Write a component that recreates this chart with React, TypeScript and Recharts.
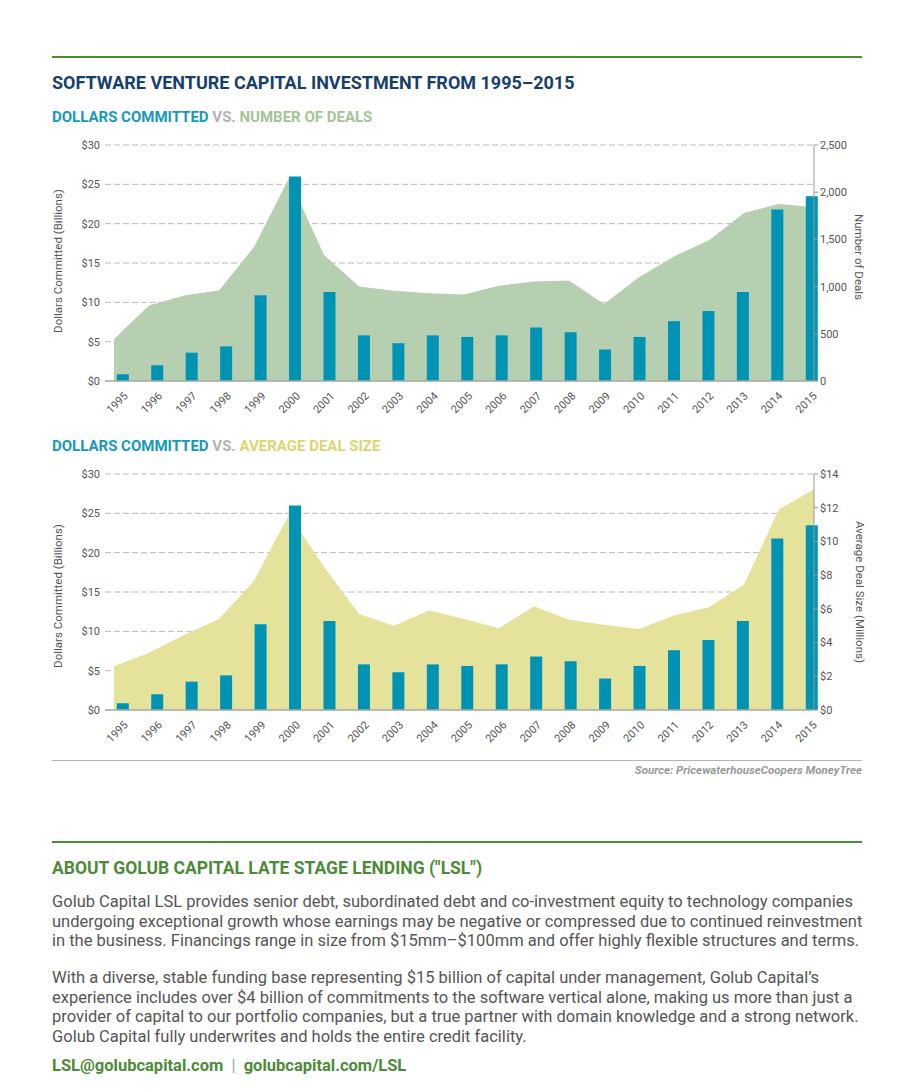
import React from "react";
import {
  ComposedChart,
  Bar,
  Area,
  XAxis,
  YAxis,
  CartesianGrid,
} from "recharts";

// values
const years = [
  "1995", "1996", "1997", "1998", "1999", "2000", "2001", "2002", "2003", "2004",
  "2005", "2006", "2007", "2008", "2009", "2010", "2011", "2012", "2013", "2014", "2015",
];
const dollarsCommitted = [
  0.85, 2.0, 3.6, 4.4, 10.9, 26.0, 11.3, 5.8, 4.8, 5.8,
  5.6, 5.8, 6.8, 6.2, 4.0, 5.6, 7.6, 8.9, 11.3, 21.8, 23.5,
];
const numberOfDeals = [
  445, 800, 905, 960, 1420, 2150, 1335, 1000, 955, 930,
  915, 1010, 1055, 1065, 815, 1100, 1320, 1490, 1780, 1875, 1840,
];
const avgDealSize = [
  2.6, 3.4, 4.45, 5.4, 7.65, 11.6, 8.5, 5.7, 5.0, 5.9,
  5.4, 4.85, 6.15, 5.35, 5.05, 4.8, 5.6, 6.1, 7.45, 11.9, 13.1,
];
const dollarTicks = [0, 5, 10, 15, 20, 25, 30];
const dealTicks = [0, 500, 1000, 1500, 2000, 2500];
const sizeTicks = [0, 2, 4, 6, 8, 10, 12, 14];

const rows = years.map((y, i) => ({
  idx: i,
  year: y,
  dollars: dollarsCommitted[i],
  deals: numberOfDeals[i],
  size: avgDealSize[i],
}));
const idxTicks = years.map((_, i) => i);

const FONT = "Roboto, 'Noto Sans', sans-serif";
const TEAL = "#0093b3";
const GREEN = "#4c8b38";
const TXT = "#555";

type ChartProps = {
  top: number;
  areaKey: string;
  areaColor: string;
  rightDomain: number[];
  rightTicks: number[];
  rightFmt: (v: number) => string;
};

function DualChart({ top, areaKey, areaColor, rightDomain, rightTicks, rightFmt }: ChartProps) {
  return (
    <div style={{ position: "absolute", left: 0, top }}>
      <ComposedChart
        width={914}
        height={291}
        data={rows}
        margin={{ top: 15, right: 0, bottom: 0, left: 0 }}
      >
        <XAxis
          xAxisId="bar"
          type="number"
          dataKey="idx"
          domain={[0, 20]}
          ticks={idxTicks}
          tickFormatter={(v) => years[v]}
          padding={{ left: 18, right: 2 }}
          axisLine={{ stroke: "#aaa", strokeWidth: 1.5 }}
          tickLine={false}
          interval={0}
          angle={-45}
          textAnchor="end"
          tickSize={4}
          tickMargin={6}
          height={40}
          tick={{ fontSize: 11, fill: TXT, fontFamily: FONT }}
        />
        <XAxis
          xAxisId="area"
          type="number"
          dataKey="idx"
          domain={[0, 20]}
          padding={{ left: 9, right: 0 }}
          orientation="top"
          height={0}
          hide
        />
        <YAxis
          yAxisId="left"
          domain={[0, 30]}
          ticks={dollarTicks}
          tickFormatter={(v) => `$${v}`}
          width={105}
          axisLine={false}
          tickLine={false}
          tickSize={3}
          tickMargin={2}
          tick={{ fontSize: 11, fill: TXT, fontFamily: FONT }}
        />
        <YAxis
          yAxisId="right"
          orientation="right"
          domain={rightDomain}
          ticks={rightTicks}
          tickFormatter={rightFmt}
          width={100}
          axisLine={{ stroke: "#999" }}
          tickLine={{ stroke: "#999" }}
          tickSize={4}
          tickMargin={2}
          tick={{ fontSize: 11, fill: TXT, fontFamily: FONT, textAnchor: "start" }}
        />
        <Area
          xAxisId="area"
          yAxisId="right"
          type="linear"
          dataKey={areaKey}
          stroke="none"
          fill={areaColor}
          fillOpacity={1}
          isAnimationActive={false}
        />
        <CartesianGrid
          xAxisId="bar"
          yAxisId="left"
          vertical={false}
          stroke="#777"
          strokeOpacity={0.5}
          strokeDasharray="6 3"
        />
        <Bar
          xAxisId="bar"
          yAxisId="left"
          dataKey="dollars"
          fill={TEAL}
          barSize={12}
          isAnimationActive={false}
        />
      </ComposedChart>
    </div>
  );
}

function AxisTitle({ text, x, y, angle }: { text: string; x: number; y: number; angle: number }) {
  return (
    <div
      style={{
        position: "absolute",
        left: x - 150,
        top: y - 8,
        width: 300,
        height: 16,
        lineHeight: "16px",
        textAlign: "center",
        fontSize: 11.5,
        color: TXT,
        fontFamily: FONT,
        transform: `rotate(${angle}deg)`,
        whiteSpace: "nowrap",
      }}
    >
      {text}
    </div>
  );
}

const para1 = [
  "Golub Capital LSL provides senior debt, subordinated debt and co-investment equity to technology companies",
  "undergoing exceptional growth whose earnings may be negative or compressed due to continued reinvestment",
  "in the business. Financings range in size from $15mm\u2013$100mm and offer highly flexible structures and terms.",
];
const para2 = [
  "With a diverse, stable funding base representing $15 billion of capital under management, Golub Capital\u2019s",
  "experience includes over $4 billion of commitments to the software vertical alone, making us more than just a",
  "provider of capital to our portfolio companies, but a true partner with domain knowledge and a strong network.",
  "Golub Capital fully underwrites and holds the entire credit facility.",
];

function Para({ lines, top }: { lines: string[]; top: number }) {
  return (
    <div
      style={{
        position: "absolute",
        left: 52,
        top,
        fontSize: 16.5,
        lineHeight: "19.7px",
        color: TXT,
        fontFamily: FONT,
        whiteSpace: "nowrap",
      }}
    >
      {lines.map((l) => (
        <div key={l}>{l}</div>
      ))}
    </div>
  );
}

export default function App() {
  const line = (top: number, color: string, h: number) => (
    <div style={{ position: "absolute", left: 52, top, width: 810, height: h, background: color }} />
  );
  const text = (top: number, size: number, children: React.ReactNode, extra = {}) => (
    <div
      style={{
        position: "absolute",
        left: 52,
        top,
        fontSize: size,
        lineHeight: 1,
        fontFamily: FONT,
        fontWeight: 700,
        whiteSpace: "nowrap",
        ...extra,
      }}
    >
      {children}
    </div>
  );
  return (
    <div
      style={{
        position: "absolute",
        left: 0,
        top: 0,
        width: 914,
        height: 1092,
        background: "#fff",
        fontFamily: FONT,
      }}
    >
      {line(56, GREEN, 2)}
      {text(74, 18, "SOFTWARE VENTURE CAPITAL INVESTMENT FROM 1995\u20132015", { color: "#173f6c" })}
      {text(110, 15, (
        <>
          <span style={{ color: "#1799b8" }}>DOLLARS COMMITTED</span>
          <span style={{ color: "#b3b3b3" }}> VS. </span>
          <span style={{ color: "#a3c496" }}>NUMBER OF DEALS</span>
        </>
      ))}

      <DualChart
        top={130}
        areaKey="deals"
        areaColor="#b5cfb0"
        rightDomain={[0, 2500]}
        rightTicks={dealTicks}
        rightFmt={(v) => v.toLocaleString("en-US")}
      />
      <AxisTitle text="Dollars Committed (Billions)" x={58} y={261} angle={-90} />
      <AxisTitle text="Number of Deals" x={859} y={257} angle={90} />

      {text(439, 15, (
        <>
          <span style={{ color: "#1799b8" }}>DOLLARS COMMITTED</span>
          <span style={{ color: "#b3b3b3" }}> VS. </span>
          <span style={{ color: "#dcd572" }}>AVERAGE DEAL SIZE</span>
        </>
      ))}

      <DualChart
        top={459}
        areaKey="size"
        areaColor="#e5e29c"
        rightDomain={[0, 14]}
        rightTicks={sizeTicks}
        rightFmt={(v) => `$${v}`}
      />
      <AxisTitle text="Dollars Committed (Billions)" x={58} y={596} angle={-90} />
      <AxisTitle text="Average Deal Size (Millions)" x={860} y={592} angle={90} />

      {line(760, "#b5b5b5", 1)}
      <div
        style={{
          position: "absolute",
          right: 52,
          top: 765,
          fontSize: 11.5,
          lineHeight: 1,
          fontStyle: "italic",
          fontWeight: 700,
          color: "#999",
          fontFamily: FONT,
        }}
      >
        Source: PricewaterhouseCoopers MoneyTree
      </div>

      {line(841, GREEN, 2)}
      {text(860, 17.5, 'ABOUT GOLUB CAPITAL LATE STAGE LENDING ("LSL")', { color: GREEN })}
      <Para lines={para1} top={892} />
      <Para lines={para2} top={968} />
      {text(1058, 16.5, (
        <>
          LSL@golubcapital.com<span style={{ color: "#8ab27a", fontWeight: 400 }}>{"  |  "}</span>golubcapital.com/LSL
        </>
      ), { color: GREEN, whiteSpace: "pre" })}
    </div>
  );
}
